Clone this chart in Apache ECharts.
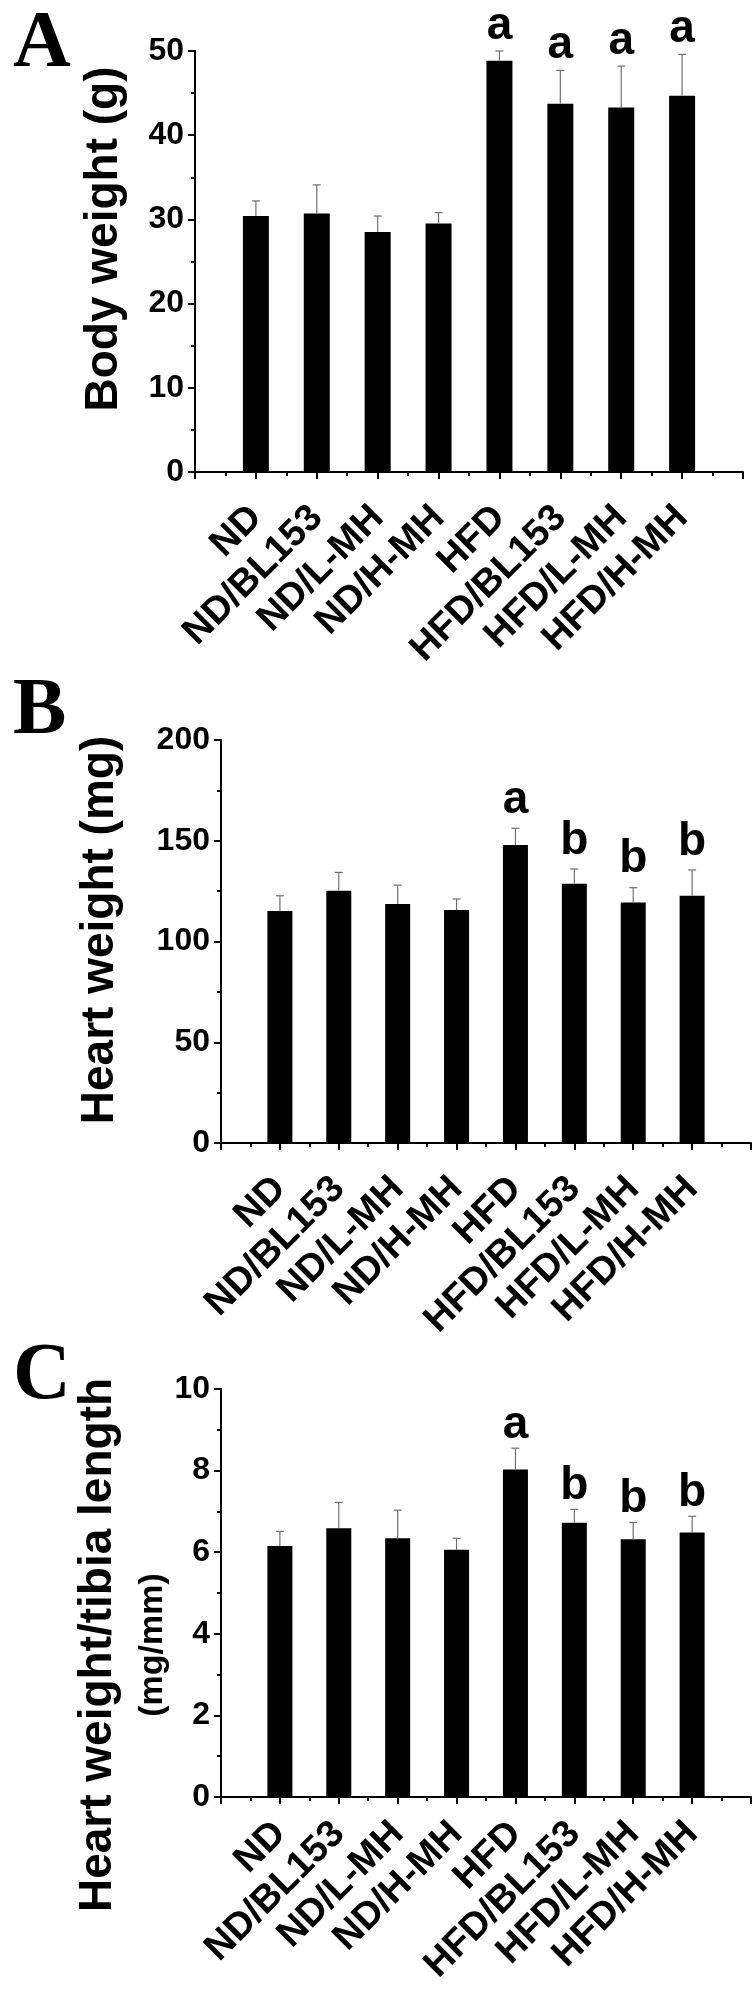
<!DOCTYPE html>
<html>
<head>
<meta charset="utf-8">
<script src="https://cdn.jsdelivr.net/npm/echarts@6/dist/echarts.min.js"></script>
<style>
html,body{margin:0;padding:0;background:#fff;}
#chart{width:755px;height:1995px;}
</style>
</head>
<body>
<div id="chart"></div>
<script>
// ---- data ----
const categories = ['ND', 'ND/BL153', 'ND/L-MH', 'ND/H-MH', 'HFD', 'HFD/BL153', 'HFD/L-MH', 'HFD/H-MH'];

const bodyWeight   = [30.4, 30.7, 28.5, 29.5, 48.85, 43.75, 43.3, 44.7];
const bodyWeightSD = [1.8, 3.4, 1.9, 1.3, 1.15, 3.95, 4.9, 4.9];
const bodyLetters  = ['', '', '', '', 'a', 'a', 'a', 'a'];

const heartWeight   = [115.1, 125.2, 118.6, 115.6, 147.9, 128.7, 119.4, 122.7];
const heartWeightSD = [7.6, 9.1, 9.4, 5.5, 8.3, 7.3, 7.3, 12.8];
const heartLetters  = ['', '', '', '', 'a', 'b', 'b', 'b'];

const heartTibia   = [6.15, 6.59, 6.34, 6.06, 8.03, 6.72, 6.32, 6.48];
const heartTibiaSD = [0.36, 0.63, 0.69, 0.28, 0.52, 0.33, 0.41, 0.40];
const tibiaLetters = ['', '', '', '', 'a', 'b', 'b', 'b'];

const yTicksA = {min: 0, max: 50, interval: 10};
const yTicksB = {min: 0, max: 200, interval: 50};
const yTicksC = {min: 0, max: 10, interval: 2};

// ---- chart ----
const SANS = '"Liberation Sans", Arial, sans-serif';
const SERIF = '"Liberation Serif", "Times New Roman", serif';

function xAxis(gridIndex, labelSize, margin) {
  return {
    type: 'value', gridIndex, min: 0, max: categories.length + 1, interval: 1,
    axisLine: {show: true, lineStyle: {color: '#000', width: 2}},
    axisTick: {show: true, length: 7, lineStyle: {color: '#000', width: 2}},
    minorTick: {show: true, splitNumber: 2, length: 4, lineStyle: {color: '#000', width: 2}},
    splitLine: {show: false},
    axisLabel: {
      show: true, rotate: 45, margin: margin, color: '#000',
      fontFamily: SANS, fontWeight: 'bold', fontSize: labelSize,
      showMinLabel: true, showMaxLabel: true,
      formatter: v => categories[v - 1] || ''
    }
  };
}
function yAxis(gridIndex, t, labelSize) {
  return {
    type: 'value', gridIndex, min: t.min, max: t.max, interval: t.interval,
    axisLine: {show: true, lineStyle: {color: '#000', width: 2}},
    axisTick: {show: true, length: 7, lineStyle: {color: '#000', width: 2}},
    minorTick: {show: true, splitNumber: 2, length: 4, lineStyle: {color: '#000', width: 2}},
    splitLine: {show: false},
    axisLabel: {margin: 11, color: '#000', fontFamily: SANS, fontWeight: 'bold', fontSize: labelSize}
  };
}

function barSeries(idx, vals, width) {
  return {
    type: 'bar', xAxisIndex: idx, yAxisIndex: idx, barWidth: width,
    itemStyle: {color: '#000'}, silent: true,
    data: vals.map((v, i) => [i + 1, v])
  };
}
function errSeries(idx, vals, sds, letters, gap, letterSize) {
  return {
    type: 'custom', xAxisIndex: idx, yAxisIndex: idx, silent: true, z: 5,
    data: vals.map((v, i) => [i + 1, v, sds[i]]),
    renderItem: function (params, api) {
      const x = api.value(0), y = api.value(1), e = api.value(2);
      const p0 = api.coord([x, y]);
      const p1 = api.coord([x, y + e]);
      const children = [
        {type: 'line', shape: {x1: p0[0], y1: p0[1], x2: p1[0], y2: p1[1]},
         style: {stroke: '#707070', lineWidth: 1.2}},
        {type: 'line', shape: {x1: p1[0] - 4, y1: p1[1], x2: p1[0] + 4, y2: p1[1]},
         style: {stroke: '#707070', lineWidth: 1.2}}
      ];
      const L = letters[params.dataIndex];
      if (L) {
        children.push({type: 'text', x: p1[0], y: p1[1] - gap,
          style: {text: L, textAlign: 'center', textVerticalAlign: 'bottom',
                  font: 'bold ' + letterSize + 'px ' + SANS, fill: '#000'}});
      }
      return {type: 'group', children};
    }
  };
}

const chart = echarts.init(document.getElementById('chart'), null, {renderer: 'canvas'});
chart.setOption({
  backgroundColor: '#fff',
  animation: false,
  grid: [
    {left: 195, width: 548, top: 51, height: 421},
    {left: 221, width: 530, top: 740, height: 403},
    {left: 221, width: 530, top: 1389, height: 408}
  ],
  xAxis: [xAxis(0, 38, 40), xAxis(1, 38, 40), xAxis(2, 38, 31)],
  yAxis: [yAxis(0, yTicksA, 32), yAxis(1, yTicksB, 32), yAxis(2, yTicksC, 32)],
  series: [
    barSeries(0, bodyWeight, 26),
    errSeries(0, bodyWeight, bodyWeightSD, bodyLetters, 2, 46),
    barSeries(1, heartWeight, 25),
    errSeries(1, heartWeight, heartWeightSD, heartLetters, 5, 46),
    barSeries(2, heartTibia, 25),
    errSeries(2, heartTibia, heartTibiaSD, tibiaLetters, 0, 46)
  ],
  graphic: [
    {type: 'text', x: 13, y: 45, style: {text: 'A', font: 'bold 80px ' + SERIF, textVerticalAlign: 'middle', fill: '#000'}},
    {type: 'text', x: 13, y: 712, style: {text: 'B', font: 'bold 80px ' + SERIF, textVerticalAlign: 'middle', fill: '#000'}},
    {type: 'text', x: 13, y: 1377, style: {text: 'C', font: 'bold 80px ' + SERIF, textVerticalAlign: 'middle', fill: '#000'}},
    {type: 'text', x: 104, y: 239, rotation: Math.PI / 2,
     style: {text: 'Body weight (g)', font: 'bold 46px ' + SANS, textAlign: 'center', textVerticalAlign: 'middle', fill: '#000'}},
    {type: 'text', x: 100, y: 930, rotation: Math.PI / 2,
     style: {text: 'Heart weight (mg)', font: 'bold 46px ' + SANS, textAlign: 'center', textVerticalAlign: 'middle', fill: '#000'}},
    {type: 'text', x: 98, y: 1645, rotation: Math.PI / 2,
     style: {text: 'Heart weight/tibia length', font: 'bold 46px ' + SANS, textAlign: 'center', textVerticalAlign: 'middle', fill: '#000'}},
    {type: 'text', x: 153, y: 1645, rotation: Math.PI / 2,
     style: {text: '(mg/mm)', font: 'bold 34px ' + SANS, textAlign: 'center', textVerticalAlign: 'middle', fill: '#000'}}
  ]
});
</script>
</body>
</html>
